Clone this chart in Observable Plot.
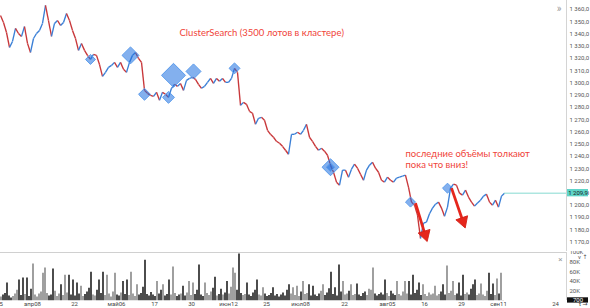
<!DOCTYPE html>
<html>
<head>
<meta charset="utf-8">
<script src="https://cdn.jsdelivr.net/npm/d3@7"></script>
<script src="https://cdn.jsdelivr.net/npm/@observablehq/plot@0.6"></script>
<style>
  html, body { margin: 0; padding: 0; background: #fff; }
  #chart { width: 590px; }
  #chart svg { display: block; }
</style>
</head>
<body>
<div id="chart"></div>
<script>
// ---------- DATA ----------
// time axis (bar units) and tick labels
const tickPos = [-0.5, 16, 37, 58, 77, 95.5, 114, 133, 150, 172, 193.5, 212, 230.5, 249, 277.5];
const tickLabels = ["25", "апр08", "22", "май06", "17", "30", "июн12", "25", "июл08", "22", "авг05", "16", "29", "сен11", "24"];

// price axis ticks and volume axis ticks
const priceTicks = [1170, 1180, 1190, 1200, 1210, 1220, 1230, 1240, 1250, 1260, 1270, 1280, 1290, 1300, 1310, 1320, 1330, 1340, 1350, 1360];
const volTicks = [20, 40, 60, 80, 100];

// price samples (one every 1.5 bars)
const priceStep = 1.5;
const close = [
  1355.1, 1349.4, 1341.2, 1329.0, 1333.9, 1344.5, 1340.4, 1338.0, 1346.1, 1332.3,
  1324.9, 1336.3, 1340.4, 1342.9, 1348.6, 1363.3, 1351.0, 1338.0, 1348.6, 1351.0,
  1347.0, 1349.4, 1356.7, 1351.0, 1342.9, 1336.3, 1326.6, 1332.3, 1326.6, 1322.5,
  1319.2, 1323.3, 1322.5, 1315.1, 1305.3, 1308.6, 1312.7, 1314.3, 1316.8, 1312.7,
  1316.8, 1311.1, 1308.6, 1316.8, 1322.5, 1324.9, 1320.0, 1316.8, 1293.9, 1291.5,
  1289.8, 1289.0, 1292.3, 1285.8, 1292.3, 1290.7, 1288.2, 1295.6, 1298.8, 1297.2,
  1299.6, 1293.9, 1302.1, 1303.7, 1304.5, 1302.9, 1298.8, 1295.6, 1297.2, 1300.5,
  1303.7, 1299.6, 1303.7, 1301.3, 1303.7, 1300.5, 1300.5, 1303.7, 1311.9, 1308.6,
  1281.7, 1284.1, 1282.5, 1276.8, 1275.2, 1266.2, 1271.1, 1271.9, 1269.5, 1261.3,
  1258.0, 1255.6, 1252.3, 1250.7, 1248.2, 1245.0, 1241.7, 1258.0, 1258.0, 1259.7,
  1258.0, 1261.3, 1266.2, 1255.6, 1252.3, 1248.2, 1245.0, 1246.6, 1244.2, 1240.9,
  1232.8, 1227.0, 1218.9, 1216.4, 1228.7, 1228.7, 1223.0, 1229.5, 1233.6, 1230.3,
  1225.4, 1220.5, 1228.7, 1232.8, 1235.2, 1230.3, 1227.0, 1220.5, 1218.9, 1223.0,
  1220.5, 1218.9, 1222.2, 1223.0, 1223.8, 1224.6, 1214.8, 1202.6, 1200.1, 1192.0,
  1173.0, 1185.4, 1186.3, 1193.1, 1197.7, 1200.9, 1202.6, 1197.7, 1191.1, 1198.5,
  1214.0, 1217.3, 1216.4, 1209.9, 1208.3, 1212.4, 1206.7, 1202.6, 1199.3, 1201.8,
  1204.2, 1207.5, 1209.1, 1202.6, 1200.1, 1204.2, 1198.5, 1207.5, 1209.9
];

// volume per bar, thousands of lots
const volume = [
  8, 12, 15, 37, 10, 6, 9, 14, 22, 43, 11, 47, 13, 47, 9, 24, 76, 12, 8, 14,
  18, 57, 68, 15, 10, 12, 66, 20, 9, 14, 33, 11, 53, 16, 53, 12, 43, 10, 37, 14,
  30, 9, 13, 18, 26, 59, 12, 10, 22, 43, 15, 59, 11, 53, 14, 8, 18, 57, 12, 10,
  16, 40, 13, 43, 11, 59, 14, 9, 33, 12, 15, 28, 84, 13, 10, 17, 12, 9, 40, 14,
  22, 33, 10, 13, 43, 12, 70, 15, 9, 12, 14, 30, 10, 16, 40, 11, 37, 13, 22, 74,
  12, 9, 37, 15, 11, 18, 26, 49, 10, 13, 24, 12, 16, 40, 14, 28, 68, 57, 22, 97,
  15, 11, 13, 37, 12, 9, 16, 22, 43, 12, 10, 27, 14, 9, 11, 15, 27, 10, 13, 8,
  12, 16, 10, 22, 33, 14, 27, 11, 30, 9, 18, 40, 13, 15, 33, 10, 30, 12, 9, 14,
  20, 33, 11, 16, 25, 59, 13, 27, 10, 74, 18, 40, 12, 14, 20, 33, 11, 13, 35, 12,
  9, 15, 18, 11, 24, 22, 68, 14, 10, 13, 16, 12, 43, 15, 9, 20, 14, 11, 40, 13,
  10, 18, 40, 14, 40, 12, 53, 15, 22, 37, 11, 33, 13, 9, 16, 12, 14, 30, 10, 13,
  18, 33, 12, 72, 15, 20, 40, 11, 14, 37, 10, 53, 13, 16, 12, 24, 33, 43, 11, 14,
  35, 12, 9, 20, 57, 13, 35, 11, 45, 14, 57, 0.7
];
const lastVolumeLabel = "700";

// ClusterSearch clusters (>= 3500 lots)
const clusterBar = [45, 65, 72, 84, 86.5, 96.5, 117, 165, 165, 205, 223.5];
const clusterPrice = [1319.2, 1322.5, 1290.7, 1288.2, 1306.2, 1309.4, 1311.9, 1231.1, 1231.1, 1202.6, 1214.0];
const clusterLots = [3500, 10100, 5000, 5000, 20200, 7900, 4200, 10100, 2500, 3500, 3500];

// annotations
const titleText = "ClusterSearch (3500 лотов в кластере)";
const noteLines = ["последние объёмы толкают", "пока что вниз!"];
const arrowFromBar = [207.5, 225.5];
const arrowFromPrice = [1201.8, 1214.0];
const arrowToBar = [212.3, 231.2];
const arrowToPrice = [1176.0, 1187.0];

// ---------- BUILD ----------
const xDomain = [0, 283];
const xRange = [0, 566];
const yDomain = [1170, 1360];
const yRange = [241.5, 9];
const UP = "#3a7fd6", DOWN = "#c8373a";
const fmtPrice = d => d3.format(",.1f")(d).replace(",", " ").replace(".", ",");

const segs = [];
for (let k = 1; k < close.length; k++) {
  segs.push({x1: (k - 1) * priceStep, y1: close[k - 1], x2: k * priceStep, y2: close[k], up: close[k] >= close[k - 1]});
}
const lastBar = (close.length - 1) * priceStep;
const last = close[close.length - 1];

const clusters = clusterBar.map((t, i) => ({t, p: clusterPrice[i], lots: clusterLots[i]}));

// screen direction of each arrow (from the scales' pixels-per-unit) for the head rotation
const pxPerBar = (xRange[1] - xRange[0]) / (xDomain[1] - xDomain[0]);
const pxPerPrice = (yRange[0] - yRange[1]) / (yDomain[1] - yDomain[0]);
const arrows = arrowFromBar.map((t, i) => {
  const sx = (arrowToBar[i] - t) * pxPerBar;
  const sy = (arrowFromPrice[i] - arrowToPrice[i]) * pxPerPrice;
  return {x1: t, y1: arrowFromPrice[i], x2: arrowToBar[i], y2: arrowToPrice[i], angle: Math.atan2(sx, -sy) * 180 / Math.PI};
});

const volBars = volume.map((v, j) => {
  const k = Math.min(close.length - 1, Math.round(j / priceStep));
  const up = close[k] >= close[Math.max(0, k - 1)];
  return {t: j, v, up};
});

const font = "Roboto, 'DejaVu Sans', sans-serif";

const pricePlot = Plot.plot({
  width: 590, height: 251,
  marginLeft: 0, marginRight: 24, marginTop: 0, marginBottom: 0,
  x: {domain: xDomain, range: xRange, axis: null},
  y: {domain: yDomain, range: yRange, axis: null},
  r: {domain: [0, 20200], range: [0, 10.8]},
  style: {fontFamily: font, background: "#fff"},
  marks: [
    Plot.ruleX([xDomain[1]], {stroke: "#d4d4d4"}),
    Plot.link(segs, {x1: "x1", y1: "y1", x2: "x2", y2: "y2", stroke: d => d.up ? UP : DOWN, strokeWidth: 1.35}),
    Plot.dot(clusters, {x: "t", y: "p", r: "lots", symbol: "diamond2", fill: "#1d6fe0", fillOpacity: 0.55, stroke: "#5b9cec", strokeWidth: 1}),
    Plot.ruleY([last], {x1: lastBar, x2: xDomain[1], stroke: "#86dad2"}),
    Plot.axisY(priceTicks, {anchor: "right", tickSize: 0, tickPadding: 3, tickFormat: fmtPrice, fontSize: 6, fill: "#555"}),
    Plot.rect([last], {x1: xDomain[1] + 0.5, x2: xDomain[1] + 11, y1: d => d - 3, y2: d => d + 3, fill: "#5fd4c8"}),
    Plot.text([last], {x: xDomain[1] + 5.75, y: d => d, text: fmtPrice, fontSize: 6, fill: "#1a1a1a"}),
    Plot.text([titleText], {x: 89.5, y: 1341.2, textAnchor: "start", fill: "#f0443a", fontSize: 9.5, fontFamily: "Lato, sans-serif"}),
    Plot.text([noteLines[0]], {x: 202.5, y: 1242.3, textAnchor: "start", fill: "#f0443a", fontSize: 9.5, fontFamily: "Lato, sans-serif"}),
    Plot.text([noteLines[1]], {x: 202.5, y: 1233.3, textAnchor: "start", fill: "#f0443a", fontSize: 9.5, fontFamily: "Lato, sans-serif"}),
    Plot.link(arrows, {x1: "x1", y1: "y1", x2: "x2", y2: "y2", stroke: "#e5261c", strokeWidth: 2.8}),
    Plot.dot(arrows, {x: "x2", y: "y2", symbol: "triangle", r: 4.6, rotate: "angle", fill: "#e5261c", stroke: "#d21f16", strokeWidth: 0.8}),
    Plot.text(["»"], {frameAnchor: "top-right", dx: -5, dy: 4, fill: "#9a9a9a", fontSize: 10})
  ]
});

const volPlot = Plot.plot({
  width: 590, height: 57,
  marginLeft: 0, marginRight: 24, marginTop: 1, marginBottom: 8,
  x: {domain: xDomain, range: xRange, axis: null},
  y: {domain: [0, 100], range: [49.3, 1], axis: null},
  style: {fontFamily: font, background: "#fff"},
  marks: [
    Plot.ruleY([100], {stroke: "#d0d0d0"}),
    Plot.ruleX([xDomain[1]], {stroke: "#d4d4d4"}),
    Plot.ruleX(volBars, {x: "t", y1: 0, y2: "v", dx: 0.5, stroke: d => d.up ? "#777" : "#000", strokeWidth: 1.4}),
    Plot.axisY(volTicks, {anchor: "right", tickSize: 0, tickPadding: 3, tickFormat: d => d + "K", fontSize: 6, fill: "#555"}),
    Plot.rect([volume[volume.length - 1]], {x1: xDomain[1] + 0.5, x2: xDomain[1] + 11, y1: d => d - 5.5, y2: d => d + 5.5, fill: "#111"}),
    Plot.text([volume[volume.length - 1]], {x: xDomain[1] + 5.75, y: d => d, text: () => lastVolumeLabel, fontSize: 6, fill: "#fff"}),
    Plot.axisX(tickPos, {anchor: "bottom", tickSize: 0, tickPadding: 1, tickFormat: d => tickLabels[tickPos.indexOf(d)], fontSize: 6, fill: "#444"}),
    Plot.text(["×"], {frameAnchor: "top-right", dx: -4, dy: 4, fill: "#9a9a9a", fontSize: 8})
  ]
});

const chart = document.getElementById("chart");
chart.appendChild(pricePlot);
chart.appendChild(volPlot);
</script>
</body>
</html>
